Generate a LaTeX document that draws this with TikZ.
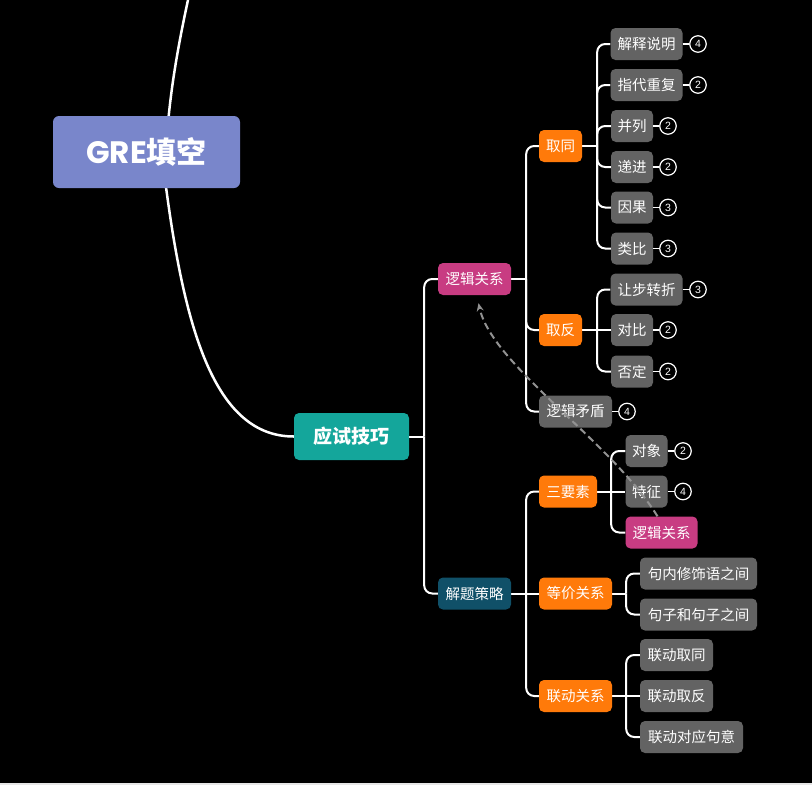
\documentclass[tikz,border=0pt]{standalone}
\usepackage{fontspec}
\setmainfont{Liberation Sans}
\newfontfamily\cjk{Noto Sans CJK SC}
\newfontfamily\pop{Poppins}
\usetikzlibrary{arrows.meta,backgrounds}
\definecolor{rootc}{HTML}{7986CB}
\definecolor{tealc}{HTML}{14A69B}
\definecolor{magc}{HTML}{C83C82}
\definecolor{dtealc}{HTML}{105068}
\definecolor{orc}{HTML}{FF7A0A}
\definecolor{greyc}{HTML}{636363}
\definecolor{dashc}{HTML}{929292}
\definecolor{stripc}{HTML}{E6E6E6}
\tikzset{
  box/.style={rounded corners=5pt, inner sep=0pt, minimum height=32pt, text=white,
    font=\cjk\fontsize{14.5}{16}\selectfont, anchor=center},
  gbox/.style={box, fill=greyc},
  obox/.style={box, fill=orc},
  mbox/.style={box, fill=magc},
  num/.style={circle, draw=white, line width=1.2pt, minimum size=16.5pt, inner sep=0pt,
    text=white, font=\fontsize{10.5}{11}\selectfont},
  conn/.style={white, line width=2pt, rounded corners=8pt},
  numlink/.style={white, line width=1.3pt},
}
\begin{document}
\begin{tikzpicture}[x=1pt,y=-1pt]
\useasboundingbox (0,0) rectangle (812,785);
% nodes
\node[box, fill=rootc, minimum width=187pt, minimum height=72pt, rounded corners=6pt] (root) at (146.5,152)
  {{\pop\bfseries\fontsize{31}{32}\selectfont GRE}{\cjk\bfseries\fontsize{30}{32}\selectfont 填空}};
\node[box, fill=tealc, minimum width=115pt, minimum height=47pt, font=\cjk\bfseries\fontsize{19}{20}\selectfont] (ys) at (351.5,436.5) {应试技巧};
\node[mbox, minimum width=73pt] (lj) at (474.5,279) {逻辑关系};
\node[box, fill=dtealc, minimum width=73pt] (jt) at (474.5,593.5) {解题策略};
% 逻辑关系 branch
\node[obox, minimum width=43pt] (qt) at (560.5,146) {取同};
\node[obox, minimum width=43pt] (qf) at (560.5,330) {取反};
\node[gbox, minimum width=73pt] (ljmd) at (575.5,411.5) {逻辑矛盾};
\node[gbox, minimum width=72pt] (jssm) at (646.5,44) {解释说明};
\node[gbox, minimum width=72pt] (zdcf) at (646.5,85) {指代重复};
\node[gbox, minimum width=42pt] (bl) at (632,126) {并列};
\node[gbox, minimum width=42pt] (dj) at (632,167) {递进};
\node[gbox, minimum width=42pt] (yg) at (632,207.5) {因果};
\node[gbox, minimum width=42pt] (lb) at (632,248.5) {类比};
\node[gbox, minimum width=72pt] (rbzz) at (646.5,289.5) {让步转折};
\node[gbox, minimum width=42pt] (db) at (632,330) {对比};
\node[gbox, minimum width=42pt] (fd) at (632,371.5) {否定};
% numbers
\node[num] (n1) at (698,44) {4};
\node[num] (n2) at (698,85) {2};
\node[num] (n3) at (668,126) {2};
\node[num] (n4) at (668,167) {2};
\node[num] (n5) at (668,207.5) {3};
\node[num] (n6) at (668,248.5) {3};
\node[num] (n7) at (698,289.5) {3};
\node[num] (n8) at (668,330) {2};
\node[num] (n9) at (668,371.5) {2};
\node[num] (n10) at (627,411.5) {4};
% 解题策略 branch
\node[obox, minimum width=58pt] (sys) at (568,491.5) {三要素};
\node[gbox, minimum width=42pt] (dx) at (646.5,451) {对象};
\node[gbox, minimum width=42pt] (tz) at (646.5,491.5) {特征};
\node[mbox, minimum width=72pt] (lj2) at (661.5,532.5) {逻辑关系};
\node[num] (n11) at (683,451) {2};
\node[num] (n12) at (683,491.5) {4};
\node[obox, minimum width=73pt] (djg) at (575.5,593.5) {等价关系};
\node[gbox, minimum width=117pt] (jn) at (698.5,573.5) {句内修饰语之间};
\node[gbox, minimum width=117pt] (jz) at (698.5,614.5) {句子和句子之间};
\node[obox, minimum width=73pt] (ld) at (575.5,696) {联动关系};
\node[gbox, minimum width=73pt] (ldqt) at (676.5,655) {联动取同};
\node[gbox, minimum width=73pt] (ldqf) at (676.5,696) {联动取反};
\node[gbox, minimum width=103pt] (lddy) at (691.5,737) {联动对应句意};
% trunk coordinates
\coordinate (ysT) at ([xshift=15pt]ys.east);
\coordinate (ljT) at ([xshift=15pt]lj.east);
\coordinate (qtT) at ([xshift=15pt]qt.east);
\coordinate (qfT) at ([xshift=15pt]qf.east);
\coordinate (jtT) at ([xshift=15pt]jt.east);
\coordinate (sysT) at ([xshift=14pt]sys.east);
\coordinate (djT) at ([xshift=14pt]djg.east);
\coordinate (ldT) at ([xshift=14pt]ld.east);
\coordinate (top) at (188,0);
\begin{pgfonlayer}{background}
\fill[black] (0,0) rectangle (812,783);
\fill[stripc] (0,783) rectangle (812,785);
\draw[white, line width=2.5pt] (top) .. controls (175,60) and (164,125) .. (166,187)
  .. controls (185,330) and (215,436.5) .. (ys.west);
\draw[conn] (ys.east) -- (ysT);
\draw[conn] (ysT) |- (lj.west);
\draw[conn] (ysT) |- (jt.west);
\draw[conn] (lj.east) -- (ljT);
\draw[conn] (ljT) |- (qt.west);
\draw[conn] (ljT) |- (qf.west);
\draw[conn] (ljT) |- (ljmd.west);
\draw[conn] (qt.east) -- (qtT);
\foreach \c in {jssm,zdcf,bl,dj,yg,lb} \draw[conn] (qtT) |- (\c.west);
\draw[conn] (qf.east) -- (qfT);
\draw[conn] (qfT) |- (rbzz.west);
\draw[conn] (qfT) -- (db.west);
\draw[conn] (qfT) |- (fd.west);
\draw[conn] (jt.east) -- (jtT);
\draw[conn] (jtT) |- (sys.west);
\draw[conn] (jtT) -- (djg.west);
\draw[conn] (jtT) |- (ld.west);
\draw[conn] (sys.east) -- (sysT);
\draw[conn] (sysT) |- (dx.west);
\draw[conn] (sysT) -- (tz.west);
\draw[conn] (sysT) |- (lj2.west);
\draw[conn] (djg.east) -- (djT);
\draw[conn] (djT) |- (jn.west);
\draw[conn] (djT) |- (jz.west);
\draw[conn] (ld.east) -- (ldT);
\draw[conn] (ldT) |- (ldqt.west);
\draw[conn] (ldT) -- (ldqf.west);
\draw[conn] (ldT) |- (lddy.west);
\end{pgfonlayer}
% number links
\draw[numlink] (jssm.east) -- (n1.west);
\draw[numlink] (zdcf.east) -- (n2.west);
\draw[numlink] (bl.east) -- (n3.west);
\draw[numlink] (dj.east) -- (n4.west);
\draw[numlink] (yg.east) -- (n5.west);
\draw[numlink] (lb.east) -- (n6.west);
\draw[numlink] (rbzz.east) -- (n7.west);
\draw[numlink] (db.east) -- (n8.west);
\draw[numlink] (fd.east) -- (n9.west);
\draw[numlink] (ljmd.east) -- (n10.west);
\draw[numlink] (dx.east) -- (n11.west);
\draw[numlink] (tz.east) -- (n12.west);
% dashed relation arrow
\draw[dashc, line width=2pt, dash pattern=on 7pt off 4pt, -{Stealth[length=8pt,width=7pt]}]
  ([xshift=-4pt]lj2.north) .. controls (610,440) and (492,365) .. ([xshift=4pt,yshift=-8pt]lj.south);
\end{tikzpicture}
\end{document}
